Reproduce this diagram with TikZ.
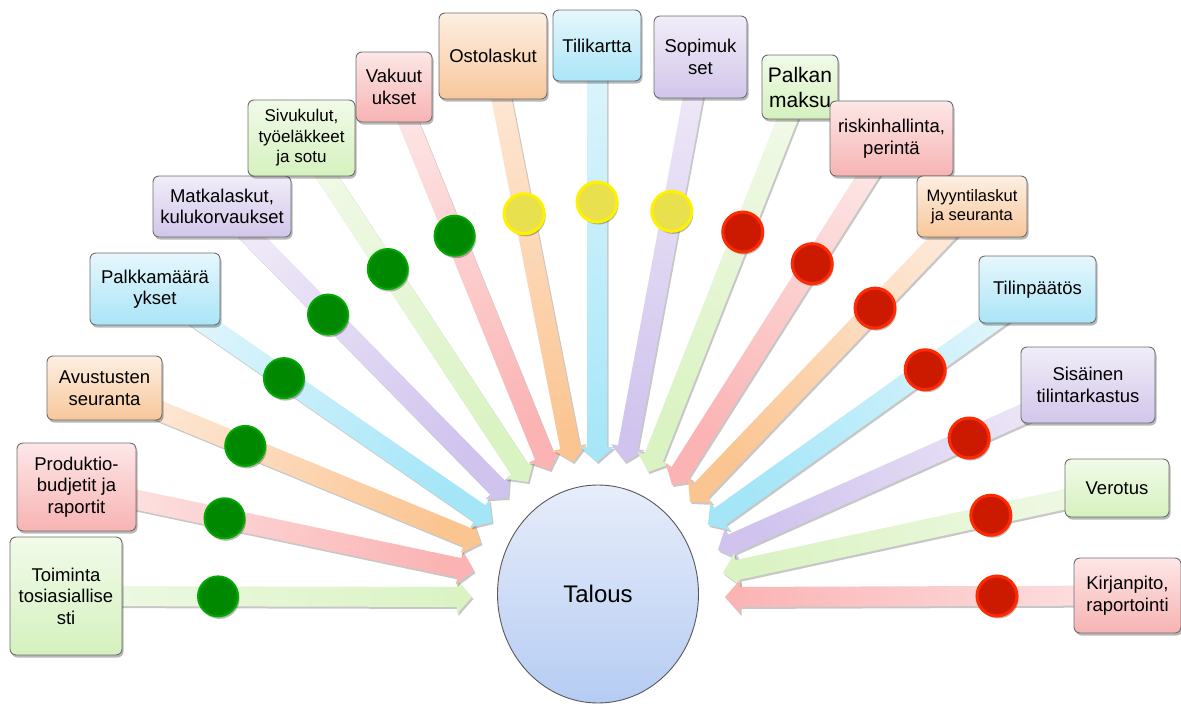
\documentclass[tikz,border=0pt]{standalone}
\usepackage{fontspec}
\setmainfont{Liberation Sans}
\usetikzlibrary{calc,shadows,shapes.geometric}
\pgfdeclarelayer{back}
\pgfsetlayers{back,main}

% box fills (top / bottom)
\definecolor{grnT}{HTML}{F1FBE9}\definecolor{grnB}{HTML}{D5F1BE}
\definecolor{pnkT}{HTML}{FDE7E7}\definecolor{pnkB}{HTML}{F7B3B3}
\definecolor{orgT}{HTML}{FDEFE2}\definecolor{orgB}{HTML}{F8C79B}
\definecolor{cynT}{HTML}{E7F7FD}\definecolor{cynB}{HTML}{A9E5F7}
\definecolor{prpT}{HTML}{F1EDF8}\definecolor{prpB}{HTML}{D2C6EA}
% arrow bands (light far end / deep near the tip)
\definecolor{grnL}{HTML}{EFF9E6}\definecolor{grnD}{HTML}{DAF3C2}
\definecolor{pnkL}{HTML}{FDE3E3}\definecolor{pnkD}{HTML}{FBB3B3}
\definecolor{orgL}{HTML}{FDE8D6}\definecolor{orgD}{HTML}{FBC592}
\definecolor{cynL}{HTML}{DFF5FC}\definecolor{cynD}{HTML}{A4E6F8}
\definecolor{prpL}{HTML}{EEE8F7}\definecolor{prpD}{HTML}{D0C3EE}
% centre ellipse and traffic lights
\definecolor{ellT}{HTML}{E7EDFA}\definecolor{ellB}{HTML}{B5CCF3}
\definecolor{boxline}{HTML}{6E6E6E}
\definecolor{gdotF}{HTML}{008800}\definecolor{gdotD}{HTML}{00A800}
\definecolor{ydotF}{HTML}{E8E04C}\definecolor{ydotD}{HTML}{FFF200}
\definecolor{rdotF}{HTML}{CC1A00}\definecolor{rdotD}{HTML}{FF2A00}

\tikzset{
  softshadow/.style={drop shadow={shadow xshift=1.5pt, shadow yshift=-2.5pt, opacity=0.28, fill=black}},
  tbox/.style={draw=boxline, line width=0.9pt, rounded corners=6pt, align=center,
    inner sep=2pt, text=black, font=\fontsize{18.5}{21.5}\selectfont, softshadow},
  gbox/.style={tbox, top color=grnT, bottom color=grnB},
  pbox/.style={tbox, top color=pnkT, bottom color=pnkB},
  obox/.style={tbox, top color=orgT, bottom color=orgB},
  cbox/.style={tbox, top color=cynT, bottom color=cynB},
  vbox/.style={tbox, top color=prpT, bottom color=prpB},
  light/.style={circle, minimum size=40pt, inner sep=0pt, softshadow},
  gdot/.style={light, fill=gdotF, draw=gdotD, line width=2pt},
  ydot/.style={light, fill=ydotF, draw=ydotD, line width=3pt},
  rdot/.style={light, fill=rdotF, draw=rdotD, line width=3pt},
}

% broad arrow from a box centre to its tip: #1 box, #2 tip, #3 colour, #4 shading angle
\newcommand\fanarrow[4]{%
  \coordinate (#2h) at ($(#2)!15pt!(#1.center)$);
  \path[top color=#3D, bottom color=#3L, shading angle=#4,
        drop shadow={shadow xshift=1.5pt, shadow yshift=-2pt, opacity=0.22, fill=black}]
    ($(#1.center)!10pt!90:(#2)$) -- ($(#2h)!10pt!90:(#2)$) -- ($(#2h)!17pt!90:(#2)$)
    -- (#2) -- ($(#2h)!17pt!-90:(#2)$) -- ($(#2h)!10pt!-90:(#2)$)
    -- ($(#1.center)!10pt!-90:(#2)$) -- cycle;
}

\begin{document}
\begin{tikzpicture}[x=1pt, y=-1pt]
\useasboundingbox (0,0) rectangle (1181,704);

% centre
\node[ellipse, draw=boxline!80!black, line width=0.9pt, top color=ellT, bottom color=ellB,
      minimum width=201pt, minimum height=218pt, font=\fontsize{24}{28}\selectfont]
  (talous) at (598,594) {Talous};

% boxes
\node[gbox, minimum width=112pt, minimum height=118pt] (n1)  at (66,596)    {Toiminta\\tosiasiallise\\sti};
\node[pbox, minimum width=119pt, minimum height=88pt]  (n2)  at (76.5,487)  {Produktio-\\budjetit ja\\raportit};
\node[obox, minimum width=115pt, minimum height=64pt]  (n3)  at (104.5,388) {Avustusten\\seuranta};
\node[cbox, minimum width=130pt, minimum height=72pt]  (n4)  at (155,289)   {Palkkamäärä\\ykset};
\node[vbox, minimum width=138pt, minimum height=61pt]  (n5)  at (222,206.5) {Matkalaskut,\\kulukorvaukset};
\node[gbox, minimum width=107pt, minimum height=76pt, font=\fontsize{17}{20.5}\selectfont]
                                                        (n6)  at (301.5,138) {Sivukulut,\\työeläkkeet\\ja sotu};
\node[pbox, minimum width=76pt,  minimum height=70pt]  (n7)  at (394,87)    {Vakuut\\ukset};
\node[obox, minimum width=108pt, minimum height=86pt]  (n8)  at (493,56)    {Ostolaskut};
\node[cbox, minimum width=88pt,  minimum height=71pt]  (n9)  at (597,45.5)  {Tilikartta};
\node[vbox, minimum width=93pt,  minimum height=82pt]  (n10) at (700.5,57)  {Sopimuk\\set};
\node[gbox, minimum width=76pt,  minimum height=64pt, font=\fontsize{21}{25}\selectfont]
                                                        (n11) at (800,87)    {Palkan\\maksu};
\node[pbox, minimum width=123pt, minimum height=75pt]  (n12) at (891.5,138.5) {riskinhallinta,\\perintä};
\node[obox, minimum width=110pt, minimum height=61pt, font=\fontsize{16.5}{18.5}\selectfont]
                                                        (n13) at (972,206.5) {Myyntilaskut\\ja seuranta};
\node[cbox, minimum width=117pt, minimum height=67pt]  (n14) at (1037.5,289.5) {Tilinpäätös};
\node[vbox, minimum width=134pt, minimum height=76pt]  (n15) at (1088,385)  {Sisäinen\\tilintarkastus};
\node[gbox, minimum width=104pt, minimum height=58pt]  (n16) at (1117,488)  {Verotus};
\node[pbox, minimum width=107pt, minimum height=75pt]  (n17) at (1127.5,595.5) {Kirjanpito,\\raportointi};

% arrow tips around the centre
\coordinate (t1)  at (472,597);
\coordinate (t2)  at (474,571);
\coordinate (t3)  at (481,543);
\coordinate (t4)  at (492,522);
\coordinate (t5)  at (508,498);
\coordinate (t6)  at (528,482);
\coordinate (t7)  at (550,470);
\coordinate (t8)  at (573,462);
\coordinate (t9)  at (597,462);
\coordinate (t10) at (625,462);
\coordinate (t11) at (648,472);
\coordinate (t12) at (672,485);
\coordinate (t13) at (690,502);
\coordinate (t14) at (708,525);
\coordinate (t15) at (718,550);
\coordinate (t16) at (723,573);
\coordinate (t17) at (725,597);

\begin{pgfonlayer}{back}
\fanarrow{n1}{t1}{grn}{270}
\fanarrow{n2}{t2}{pnk}{258.75}
\fanarrow{n3}{t3}{org}{247.5}
\fanarrow{n4}{t4}{cyn}{236.25}
\fanarrow{n5}{t5}{prp}{225}
\fanarrow{n6}{t6}{grn}{213.75}
\fanarrow{n7}{t7}{pnk}{202.5}
\fanarrow{n8}{t8}{org}{191.25}
\fanarrow{n9}{t9}{cyn}{180}
\fanarrow{n10}{t10}{prp}{168.75}
\fanarrow{n11}{t11}{grn}{157.5}
\fanarrow{n12}{t12}{pnk}{146.25}
\fanarrow{n13}{t13}{org}{135}
\fanarrow{n14}{t14}{cyn}{123.75}
\fanarrow{n15}{t15}{prp}{112.5}
\fanarrow{n16}{t16}{grn}{101.25}
\fanarrow{n17}{t17}{pnk}{90}

% status lights on the arrows
\node[gdot] (d1)  at ($(t1)!254pt!(n1.center)$) {};
\node[gdot] (d2)  at ($(t2)!255pt!(n2.center)$) {};
\node[gdot] (d3)  at ($(t3)!255pt!(n3.center)$) {};
\node[gdot] (d4)  at ($(t4)!253pt!(n4.center)$) {};
\node[gdot] (d5)  at ($(t5)!257pt!(n5.center)$) {};
\node[gdot] (d6)  at ($(t6)!255pt!(n6.center)$) {};
\node[gdot] (d7)  at ($(t7)!253pt!(n7.center)$) {};
\node[ydot] (d8)  at ($(t8)!253pt!(n8.center)$) {};
\node[ydot] (d9)  at ($(t9)!260pt!(n9.center)$) {};
\node[ydot] (d10) at ($(t10)!255pt!(n10.center)$) {};
\node[rdot] (d11) at ($(t11)!258pt!(n11.center)$) {};
\node[rdot] (d12) at ($(t12)!262pt!(n12.center)$) {};
\node[rdot] (d13) at ($(t13)!268pt!(n13.center)$) {};
\node[rdot] (d14) at ($(t14)!267pt!(n14.center)$) {};
\node[rdot] (d15) at ($(t15)!275pt!(n15.center)$) {};
\node[rdot] (d16) at ($(t16)!274pt!(n16.center)$) {};
\node[rdot] (d17) at ($(t17)!272pt!(n17.center)$) {};
\end{pgfonlayer}
\end{tikzpicture}
\end{document}
